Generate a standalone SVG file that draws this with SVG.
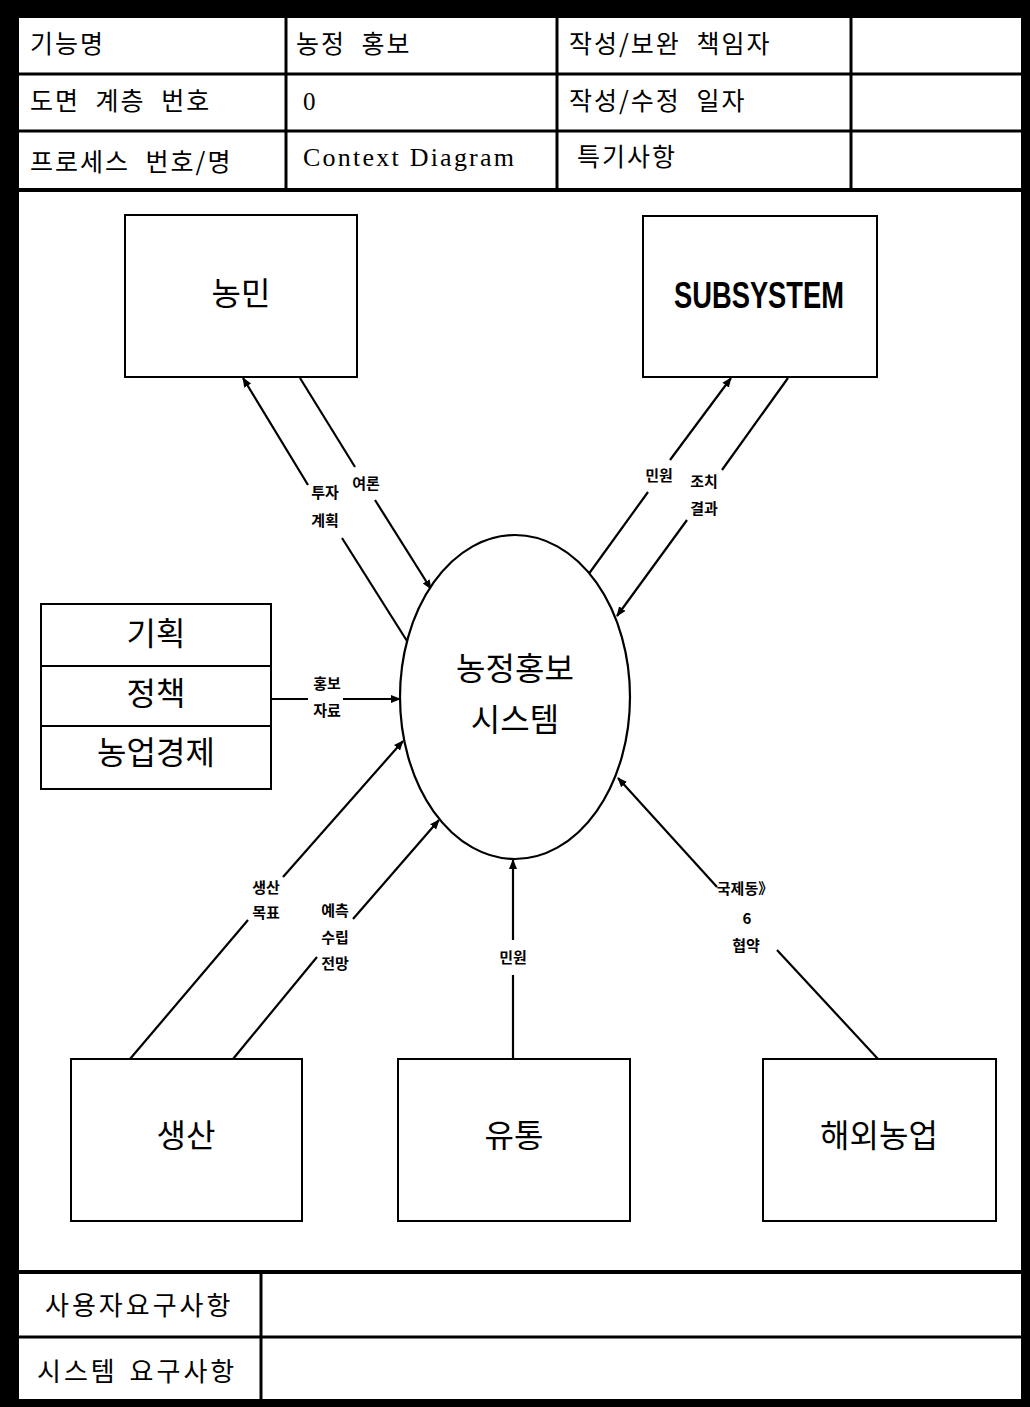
<svg xmlns="http://www.w3.org/2000/svg" width="1030" height="1407" viewBox="0 0 1030 1407">
<style>
.kr{font-family:"Noto Sans CJK KR","Noto Sans",sans-serif;fill:#000}
.hd{font-size:25px;letter-spacing:2px;word-spacing:8px}
.ft{font-size:26px;letter-spacing:3px;word-spacing:3px}
.nd{font-size:32px;text-anchor:middle}
.lb{font-size:15px;font-weight:bold;text-anchor:middle}
.box{fill:#fff;stroke:#000;stroke-width:2}
.tl{stroke:#000;stroke-width:3;fill:none}
.cn{stroke:#000;stroke-width:2.2;fill:none}
</style>
<defs>
<marker id="ah" viewBox="0 0 10 10" refX="9" refY="5" markerWidth="10" markerHeight="10" markerUnits="userSpaceOnUse" orient="auto">
<path d="M0,1 L10,5 L0,9 Z" fill="#000"/>
</marker>
</defs>
<rect x="0" y="0" width="1030" height="1407" fill="#000"/>
<rect x="19" y="18" width="1002" height="1381" fill="#fff"/>
<g id="header">
<line class="tl" x1="19" y1="74" x2="1021" y2="74"/>
<line class="tl" x1="19" y1="131" x2="1021" y2="131"/>
<line class="tl" x1="19" y1="190" x2="1021" y2="190" style="stroke-width:4"/>
<line class="tl" x1="286" y1="18" x2="286" y2="190"/>
<line class="tl" x1="557" y1="18" x2="557" y2="190"/>
<line class="tl" x1="851" y1="18" x2="851" y2="190"/>
<text class="kr hd" x="30" y="53">기능명</text>
<text class="kr hd" x="296" y="53">농정 홍보</text>
<text class="kr hd" x="569" y="53">작성/보완 책임자</text>
<text class="kr hd" x="30" y="110">도면 계층 번호</text>
<text x="303" y="110" style="font-family:'Liberation Serif',serif;font-size:25px">0</text>
<text class="kr hd" x="569" y="110">작성/수정 일자</text>
<text class="kr hd" x="30" y="171">프로세스 번호/명</text>
<text x="303" y="166" textLength="211" lengthAdjust="spacing" style="font-family:'Liberation Serif',serif;font-size:26px">Context Diagram</text>
<text class="kr hd" x="577" y="166">특기사항</text>
</g>
<g id="footer">
<line class="tl" x1="19" y1="1272" x2="1021" y2="1272" style="stroke-width:4"/>
<line class="tl" x1="19" y1="1337" x2="1021" y2="1337"/>
<line class="tl" x1="261" y1="1272" x2="261" y2="1399"/>
<text class="kr ft" x="45" y="1315">사용자요구사항</text>
<text class="kr ft" x="37" y="1381">시스템 요구사항</text>
</g>
<g id="connectors">
<polyline class="cn" points="308,485 243,378" marker-end="url(#ah)"/>
<line class="cn" x1="407" y1="641" x2="342" y2="538"/>
<line class="cn" x1="300" y1="378" x2="355" y2="467"/>
<polyline class="cn" points="375,500 431,589" marker-end="url(#ah)"/>
<polyline class="cn" points="670,460 731,378" marker-end="url(#ah)"/>
<line class="cn" x1="648" y1="492" x2="588" y2="575"/>
<line class="cn" x1="788" y1="378" x2="722" y2="470"/>
<polyline class="cn" points="687,520 617,616" marker-end="url(#ah)"/>
<line class="cn" x1="272" y1="699" x2="308" y2="699"/>
<polyline class="cn" points="343,699 400,699" marker-end="url(#ah)"/>
<line class="cn" x1="130" y1="1059" x2="248" y2="920"/>
<polyline class="cn" points="283,877 403,741" marker-end="url(#ah)"/>
<line class="cn" x1="233" y1="1059" x2="317" y2="957"/>
<polyline class="cn" points="353,919 439,820" marker-end="url(#ah)"/>
<line class="cn" x1="513" y1="1059" x2="513" y2="975"/>
<polyline class="cn" points="513,940 513,860" marker-end="url(#ah)"/>
<line class="cn" x1="878" y1="1059" x2="777" y2="950"/>
<polyline class="cn" points="717,887 618,778" marker-end="url(#ah)"/>
<text class="kr lb" x="325" y="498">투자</text>
<text class="kr lb" x="325" y="526">계획</text>
<text class="kr lb" x="366" y="489">여론</text>
<text class="kr lb" x="659" y="481">민원</text>
<text class="kr lb" x="704" y="487">조치</text>
<text class="kr lb" x="704" y="514">결과</text>
<text class="kr lb" x="327" y="689">홍보</text>
<text class="kr lb" x="327" y="716">자료</text>
<text class="kr lb" x="266" y="893">생산</text>
<text class="kr lb" x="266" y="918">목표</text>
<text class="kr lb" x="335" y="916">예측</text>
<text class="kr lb" x="335" y="943">수립</text>
<text class="kr lb" x="335" y="969">전망</text>
<text class="kr lb" x="513" y="963">민원</text>
<text class="kr lb" x="745" y="894">국제동》</text>
<text class="kr lb" x="747" y="924">6</text>
<text class="kr lb" x="746" y="951">협약</text>
</g>
<g id="farmer">
<rect class="box" x="125" y="215" width="232" height="162"/>
<text class="kr nd" x="241" y="305">농민</text>
</g>
<g id="subsystem">
<rect class="box" x="643" y="216" width="234" height="161"/>
<text x="759" y="308" text-anchor="middle" textLength="170" lengthAdjust="spacingAndGlyphs" style="font-family:'Liberation Sans',Arial,sans-serif;font-weight:bold;font-size:36px">SUBSYSTEM</text>
</g>
<g id="process">
<ellipse cx="515" cy="697" rx="115" ry="162" fill="#fff" stroke="#000" stroke-width="2.2"/>
<text class="kr nd" x="515" y="680">농정홍보</text>
<text class="kr nd" x="515" y="731">시스템</text>
</g>
<g id="store">
<rect class="box" x="41" y="604" width="230" height="185"/>
<line stroke="#000" stroke-width="2" x1="41" y1="666" x2="271" y2="666"/>
<line stroke="#000" stroke-width="2" x1="41" y1="726" x2="271" y2="726"/>
<text class="kr nd" x="156" y="645">기획</text>
<text class="kr nd" x="156" y="705">정책</text>
<text class="kr nd" x="156" y="764">농업경제</text>
</g>
<g id="production">
<rect class="box" x="71" y="1059" width="231" height="162"/>
<text class="kr nd" x="186" y="1147">생산</text>
</g>
<g id="distribution">
<rect class="box" x="398" y="1059" width="232" height="162"/>
<text class="kr nd" x="514" y="1147">유통</text>
</g>
<g id="overseas">
<rect class="box" x="763" y="1059" width="233" height="162"/>
<text class="kr nd" x="879" y="1147">해외농업</text>
</g>
</svg>
